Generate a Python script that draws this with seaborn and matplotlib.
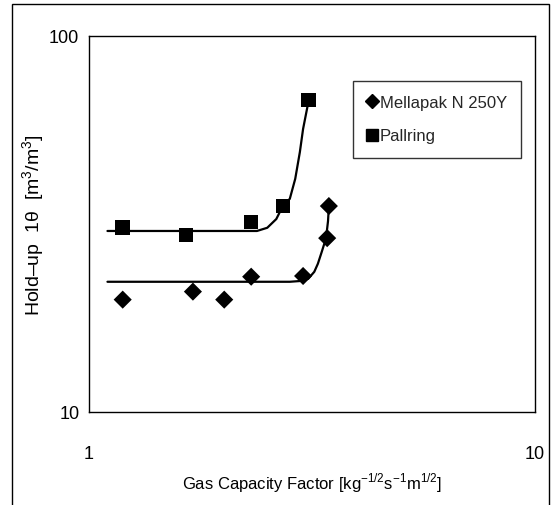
import matplotlib
matplotlib.use("Agg")
import matplotlib.pyplot as plt
import seaborn as sns
import pandas as pd
from matplotlib.lines import Line2D
from matplotlib.patches import Rectangle

# ---- data ----
mellapak_x = [1.19, 1.71, 2.01, 2.31, 3.02, 3.42, 3.45]
mellapak_y = [19.9, 20.9, 19.9, 22.9, 23.0, 29.0, 35.3]
pallring_x = [1.19, 1.65, 2.31, 2.72, 3.11]
pallring_y = [30.9, 29.6, 32.0, 35.3, 67.6]

# fitted trend curves
mellapak_fit_x = [1.10, 2.82, 2.97, 3.10, 3.20, 3.26, 3.33, 3.40, 3.435, 3.45]
mellapak_fit_y = [22.2, 22.2, 22.3, 22.6, 23.6, 24.8, 26.8, 29.0, 32.2, 35.3]
pallring_fit_x = [1.10, 2.38, 2.51, 2.63, 2.72, 2.82, 2.90, 2.97, 3.02, 3.11]
pallring_fit_y = [30.3, 30.3, 30.9, 32.6, 35.3, 36.9, 41.7, 49.1, 56.6, 67.6]

labels = ["Mellapak N 250Y", "Pallring"]
x_ticks = [1, 10]
y_ticks = [10, 100]
x_label = "Gas Capacity Factor [kg$^{-1/2}$s$^{-1}$m$^{1/2}$]"
y_label = "Hold\u2013up  1\u03b8  [m$^{3}$/m$^{3}$]"

sns.set_theme(style="white")
plt.rcParams['font.family'] = ['Liberation Sans', 'DejaVu Sans']
plt.rcParams['mathtext.fontset'] = 'custom'
plt.rcParams['mathtext.rm'] = 'Liberation Sans'

W, H = 557, 506
fig = plt.figure(figsize=(W / 100, H / 100), dpi=100)
L, R, T, B = 89, 535, 37, 413
ax = fig.add_axes([L / W, 1 - B / H, (R - L) / W, (B - T) / H])

pts = pd.DataFrame({
    "x": mellapak_x + pallring_x,
    "y": mellapak_y + pallring_y,
    "series": [labels[0]] * len(mellapak_x) + [labels[1]] * len(pallring_x),
})
fits = pd.DataFrame({
    "x": mellapak_fit_x + pallring_fit_x,
    "y": mellapak_fit_y + pallring_fit_y,
    "series": [labels[0]] * len(mellapak_fit_x) + [labels[1]] * len(pallring_fit_x),
})

sns.lineplot(data=fits, x="x", y="y", units="series", estimator=None, sort=False,
             color="black", linewidth=1.6, ax=ax, legend=False)
sns.scatterplot(data=pts, x="x", y="y", style="series",
                markers={labels[0]: "D", labels[1]: "s"},
                size="series", sizes={labels[0]: 85, labels[1]: 110},
                color="black", edgecolor="black", linewidth=0, ax=ax, legend=False)

ax.set_xscale("log")
ax.set_yscale("log")
ax.set_xlim(1, 10)
ax.set_ylim(10, 100)
ax.set_xticks(x_ticks)
ax.set_xticklabels([str(t) for t in x_ticks])
ax.set_yticks(y_ticks)
ax.set_yticklabels([str(t) for t in y_ticks])
ax.minorticks_off()
ax.tick_params(axis="x", length=0, pad=24, labelsize=13, colors="black")
ax.tick_params(axis="y", length=0, pad=7, labelsize=13, colors="black")
ax.set_xlabel(x_label, fontsize=12, color="black", labelpad=6)
ax.set_ylabel(y_label, fontsize=14, color="black")
ax.yaxis.set_label_coords((47 - L) / (R - L), 0.50)
for sp in ax.spines.values():
    sp.set_color("black")
    sp.set_linewidth(1.0)

handles = [
    Line2D([], [], linestyle="none", marker="D", color="black", markersize=7),
    Line2D([], [], linestyle="none", marker="s", color="black", markersize=9),
]
leg = ax.legend(handles, labels, loc="upper left",
                bbox_to_anchor=((353 - L) / (R - L), (B - 82) / (B - T)),
                fontsize=12, frameon=True, fancybox=False, handlelength=0.6,
                handletextpad=0.15, labelspacing=1.1, borderpad=0.85,
                borderaxespad=0)
leg.get_frame().set_edgecolor("black")
leg.get_frame().set_linewidth(1.0)

# outer border of the figure
fig.add_artist(Rectangle((12 / W, -0.02), (549 - 12) / W, 1 - 5 / H + 0.02,
                         transform=fig.transFigure, fill=False,
                         edgecolor="black", linewidth=1.0))

fig.savefig("out.png", dpi=100)
